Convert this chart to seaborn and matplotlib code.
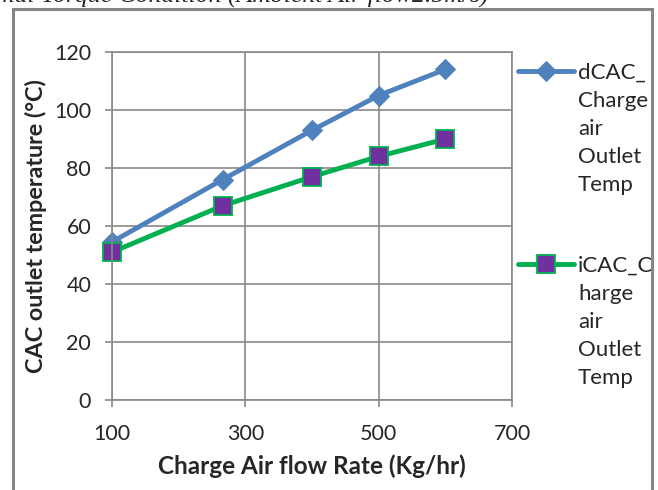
import pandas as pd
import matplotlib.pyplot as plt
import seaborn as sns

# data
flow = [100, 266, 400, 500, 600]
dcac = [54.5, 76, 93, 105, 114]
icac = [51, 67, 77, 84, 90]
dcac_label = "dCAC_\nCharge\nair\nOutlet\nTemp"
icac_label = "iCAC_C\nharge\nair\nOutlet\nTemp"
x_ticks = [100, 300, 500, 700]
y_ticks = [0, 20, 40, 60, 80, 100, 120]

sns.set_style("white")
plt.rcParams['font.family'] = ['Lato', 'DejaVu Sans']

grid_col = "#898989"

fig = plt.figure(figsize=(6.58, 4.90), dpi=100)
ax = fig.add_axes([112 / 658, 1 - 400 / 490, 400 / 658, 348 / 490])

sns.lineplot(x=flow, y=dcac, ax=ax, color="#4F81BD", lw=3.5, marker="D",
             markersize=10, markeredgecolor="#4F81BD", label=dcac_label, clip_on=False)
sns.lineplot(x=flow, y=icac, ax=ax, color="#00B050", lw=3.5, marker="s",
             markersize=12.5, markerfacecolor="#7030A0", markeredgecolor="#00B050",
             markeredgewidth=1.3, label=icac_label, clip_on=False)

ax.set_xlim(100, 700)
ax.set_ylim(0, 120)
ax.set_xticks(x_ticks)
ax.set_yticks(y_ticks)
ax.grid(True, color=grid_col, lw=1.2)
for s in ax.spines.values():
    s.set_color(grid_col)
    s.set_linewidth(1.2)
ax.tick_params(axis='both', direction='out', length=5, width=1.2, color=grid_col,
               labelsize=15.5, bottom=True, left=True)
ax.tick_params(axis='y', pad=10)
ax.tick_params(axis='x', pad=12)

ax.set_xlabel("Charge Air flow Rate (Kg/hr)", fontsize=17.5, fontweight='bold', labelpad=8)
ax.set_ylabel("CAC outlet temperature (°C)", fontsize=16.8, fontweight='bold', labelpad=5)

line_px = 29
leg = ax.legend(loc='upper left', bbox_to_anchor=(518 / 658, 1 - 63 / 490),
                bbox_transform=fig.transFigure, frameon=False, fontsize=16,
                handlelength=2.5, handletextpad=0.2, labelspacing=2.75,
                borderaxespad=0, borderpad=0)
for t in leg.get_texts():
    t.set_linespacing(1.5)
# lift the handles to sit beside the first line of each label
for h in leg.legend_handles:
    h.set_ydata([y + 2 * line_px * 0.72 for y in h.get_ydata()])

# chart frame and the cut-off caption above it
fig.add_artist(plt.Rectangle((12.5 / 658, -0.1), (651.5 - 12.5) / 658, 1.1 - 9 / 490,
                             transform=fig.transFigure, fill=False,
                             edgecolor="#868686", lw=2.2))
fig.text(-4 / 658, 1 - 2 / 490, "mal Torque Condition (Ambient Air flow2.5m/s)",
         family="Liberation Serif", style="italic", fontsize=18.5, va='baseline', ha='left')

fig.savefig("out.png", dpi=100)
